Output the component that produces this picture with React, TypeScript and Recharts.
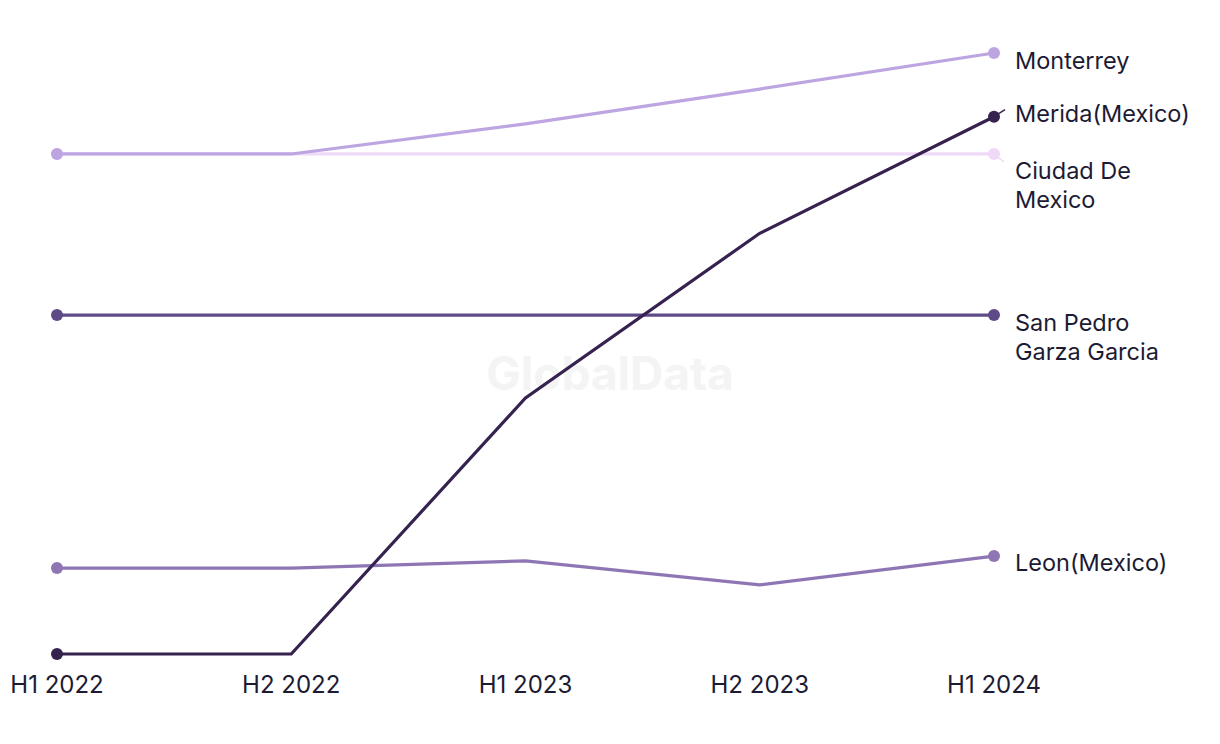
import React from "react";
import { LineChart, Line, XAxis, YAxis } from "recharts";

const periods = ["H1 2022", "H2 2022", "H1 2023", "H2 2023", "H1 2024"];

const monterrey = [83.2, 83.2, 88.2, 94.0, 100];
const ciudadDeMexico = [83.2, 83.2, 83.2, 83.2, 83.2];
const merida = [0, 0, 42.6, 70.0, 89.4];
const sanPedro = [56.4, 56.4, 56.4, 56.4, 56.4];
const leon = [14.3, 14.3, 15.5, 11.5, 16.3];

const seriesNames = [
  "Ciudad De Mexico",
  "Leon(Mexico)",
  "San Pedro Garza Garcia",
  "Monterrey",
  "Merida(Mexico)",
];

const data = periods.map((p, i) => ({
  period: p,
  "Ciudad De Mexico": ciudadDeMexico[i],
  "Leon(Mexico)": leon[i],
  "San Pedro Garza Garcia": sanPedro[i],
  Monterrey: monterrey[i],
  "Merida(Mexico)": merida[i],
}));

const colors: Record<string, string> = {
  "Ciudad De Mexico": "#f0d8f8",
  "Leon(Mexico)": "#8e76b4",
  "San Pedro Garza Garcia": "#5e4a87",
  Monterrey: "#bda5e2",
  "Merida(Mexico)": "#35224f",
};

// label placement relative to the last point
const labelStyle: Record<string, { lines: string[]; dy: number; leader?: [number, number] }> = {
  Monterrey: { lines: ["Monterrey"], dy: 7 },
  "Merida(Mexico)": { lines: ["Merida(Mexico)"], dy: -4, leader: [11, -7] },
  "Ciudad De Mexico": { lines: ["Ciudad De", "Mexico"], dy: 16, leader: [10, 8] },
  "San Pedro Garza Garcia": { lines: ["San Pedro", "Garza Garcia"], dy: 7 },
  "Leon(Mexico)": { lines: ["Leon(Mexico)"], dy: 6 },
};

const FONT = "Inter, 'Noto Sans', sans-serif";
const TEXT = "#1c1b33";
const last = periods.length - 1;

const EndLabel = (name: string) => (props: any) => {
  const { x, y, index } = props;
  if (index !== last) return null;
  const cfg = labelStyle[name];
  return (
    <g>
      {cfg.leader && (
        <line
          x1={x}
          y1={y}
          x2={x + cfg.leader[0]}
          y2={y + cfg.leader[1]}
          stroke={colors[name]}
          strokeWidth={1.5}
        />
      )}
      <text
        x={x + 21}
        y={y + cfg.dy}
        fill={TEXT}
        fontSize={23.5}
        fontFamily={FONT}
        dominantBaseline="central"
      >
        {cfg.lines.map((l, i) => (
          <tspan key={i} x={x + 21} dy={i === 0 ? 0 : 29}>
            {l}
          </tspan>
        ))}
      </text>
    </g>
  );
};

const EndDot = (name: string) => (props: any) => {
  const { cx, cy, index } = props;
  if (index !== 0 && index !== last) return <g key={index} />;
  return <circle key={index} cx={cx} cy={cy} r={6} fill={colors[name]} />;
};

export default function App() {
  return (
    <div style={{ position: "absolute", left: 0, top: 0, width: 1220, height: 744, background: "#fff" }}>
      <LineChart
        width={1220}
        height={744}
        data={data}
        margin={{ top: 53, right: 226, bottom: 30, left: 57 }}
      >
        <text
          x={610}
          y={373}
          textAnchor="middle"
          dominantBaseline="central"
          fontSize={46}
          fontWeight={700}
          fontFamily={FONT}
          fill="#f4f4f4"
        >
          GlobalData
        </text>
        <XAxis
          dataKey="period"
          axisLine={false}
          tickLine={false}
          tickSize={0}
          tickMargin={22}
          height={60}
          interval={0}
          tick={{ fontSize: 24, fill: TEXT, fontFamily: FONT }}
        />
        <YAxis hide domain={[0, 100]} />
        {seriesNames.map((name) => (
          <Line
            key={name}
            dataKey={name}
            type="linear"
            stroke={colors[name]}
            strokeWidth={3.2}
            dot={EndDot(name)}
            activeDot={false}
            isAnimationActive={false}
            label={EndLabel(name)}
          />
        ))}
      </LineChart>
    </div>
  );
}
